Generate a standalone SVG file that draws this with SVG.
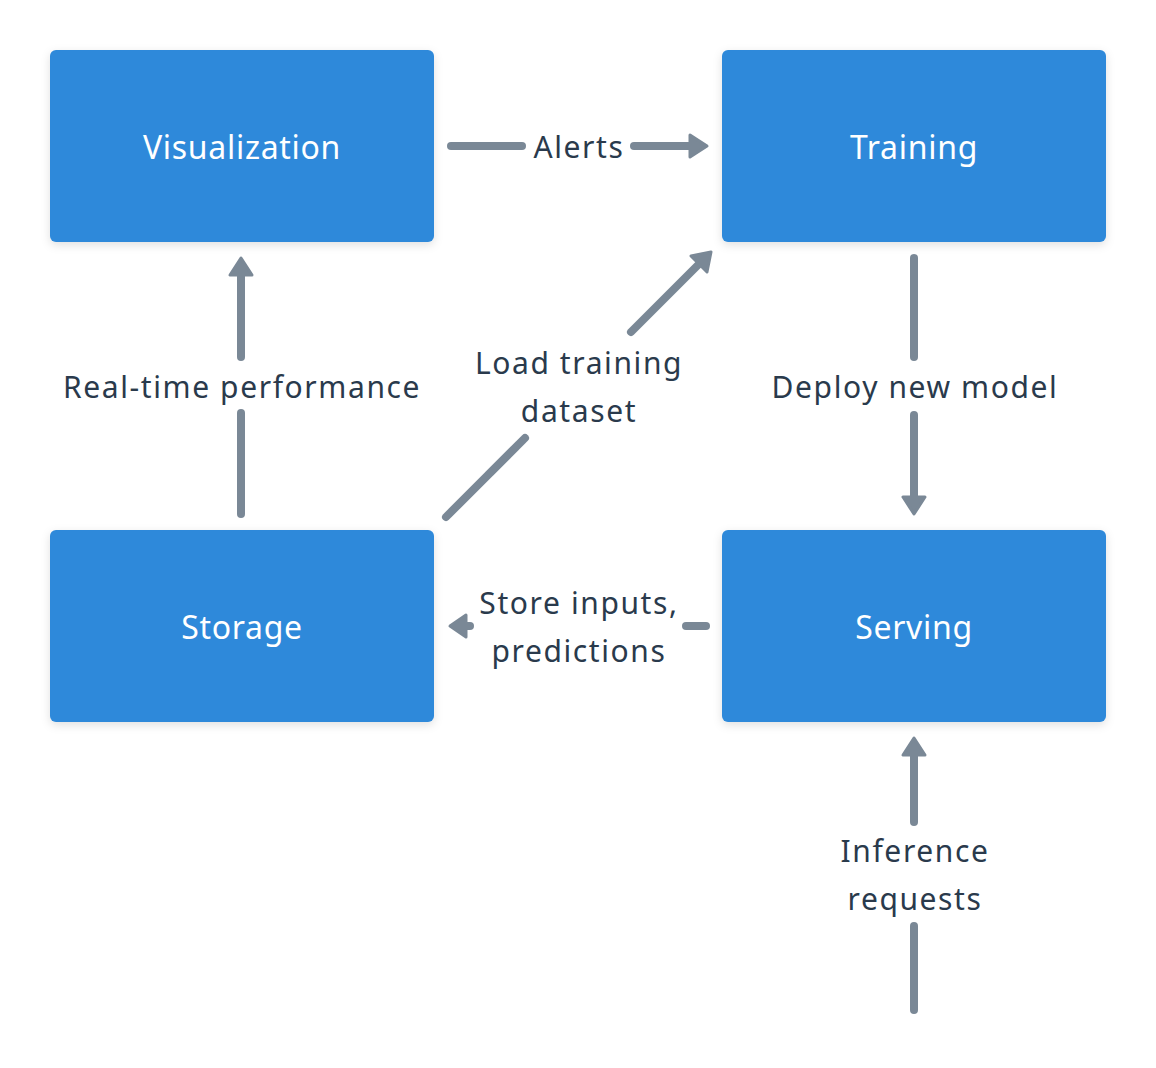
<svg xmlns="http://www.w3.org/2000/svg" width="1156" height="1068" viewBox="0 0 1156 1068">
<style>
.box{fill:#2d89da;}
.nl{font-family:"Noto Sans","DejaVu Sans",sans-serif;font-size:32px;fill:#ffffff;text-anchor:middle;dominant-baseline:central;letter-spacing:0.7px;}
.el{font-family:"Noto Sans","DejaVu Sans",sans-serif;font-size:30px;fill:#2a3a4c;text-anchor:middle;dominant-baseline:central;letter-spacing:1.6px;}
.ln{stroke:#7a8896;stroke-width:8;stroke-linecap:round;fill:none;}
.ah{fill:#7a8896;stroke:#7a8896;stroke-width:3;stroke-linejoin:round;}
</style>
<defs>
<filter id="sh" x="-10%" y="-10%" width="120%" height="130%">
<feDropShadow dx="0" dy="3" stdDeviation="5" flood-color="#000" flood-opacity="0.12"/>
</filter>
</defs>
<rect width="1156" height="1068" fill="#ffffff"/>
<g id="edges">
<g id="e-alerts">
<line class="ln" x1="451" y1="146" x2="522" y2="146"/>
<line class="ln" x1="634" y1="146" x2="694" y2="146"/>
<polygon class="ah" points="707,146 690,135 690,157"/>
<text class="el" x="579" y="146">Alerts</text>
</g>
<g id="e-realtime">
<line class="ln" x1="241" y1="514" x2="241" y2="413"/>
<line class="ln" x1="241" y1="357" x2="241" y2="272"/>
<polygon class="ah" points="241,258 230,275 252,275"/>
<text class="el" x="242" y="386">Real-time performance</text>
</g>
<g id="e-load">
<line class="ln" x1="446" y1="517" x2="525" y2="438"/>
<line class="ln" x1="631" y1="332" x2="700" y2="263"/>
<polygon class="ah" points="711,252 691,256 707,272"/>
<text class="el" x="579" y="362">Load training</text>
<text class="el" x="579" y="410">dataset</text>
</g>
<g id="e-deploy">
<line class="ln" x1="914" y1="258" x2="914" y2="357"/>
<line class="ln" x1="914" y1="415" x2="914" y2="500"/>
<polygon class="ah" points="914,514 903,497 925,497"/>
<text class="el" x="915" y="386">Deploy new model</text>
</g>
<g id="e-store">
<line class="ln" x1="706" y1="626" x2="686" y2="626"/>
<line class="ln" x1="470" y1="626" x2="462" y2="626"/>
<polygon class="ah" points="450,626 466,615 466,637"/>
<text class="el" x="579" y="602">Store inputs,</text>
<text class="el" x="579" y="650">predictions</text>
</g>
<g id="e-inference">
<line class="ln" x1="914" y1="1010" x2="914" y2="926"/>
<line class="ln" x1="914" y1="822" x2="914" y2="752"/>
<polygon class="ah" points="914,738 903,755 925,755"/>
<text class="el" x="915" y="850">Inference</text>
<text class="el" x="915" y="898">requests</text>
</g>
</g>
<g id="n-visualization">
<rect class="box" x="50" y="50" width="384" height="192" rx="6" filter="url(#sh)"/>
<text class="nl" x="242" y="146">Visualization</text>
</g>
<g id="n-training">
<rect class="box" x="722" y="50" width="384" height="192" rx="6" filter="url(#sh)"/>
<text class="nl" x="914" y="146">Training</text>
</g>
<g id="n-storage">
<rect class="box" x="50" y="530" width="384" height="192" rx="6" filter="url(#sh)"/>
<text class="nl" x="242" y="626">Storage</text>
</g>
<g id="n-serving">
<rect class="box" x="722" y="530" width="384" height="192" rx="6" filter="url(#sh)"/>
<text class="nl" x="914" y="626">Serving</text>
</g>
</svg>
